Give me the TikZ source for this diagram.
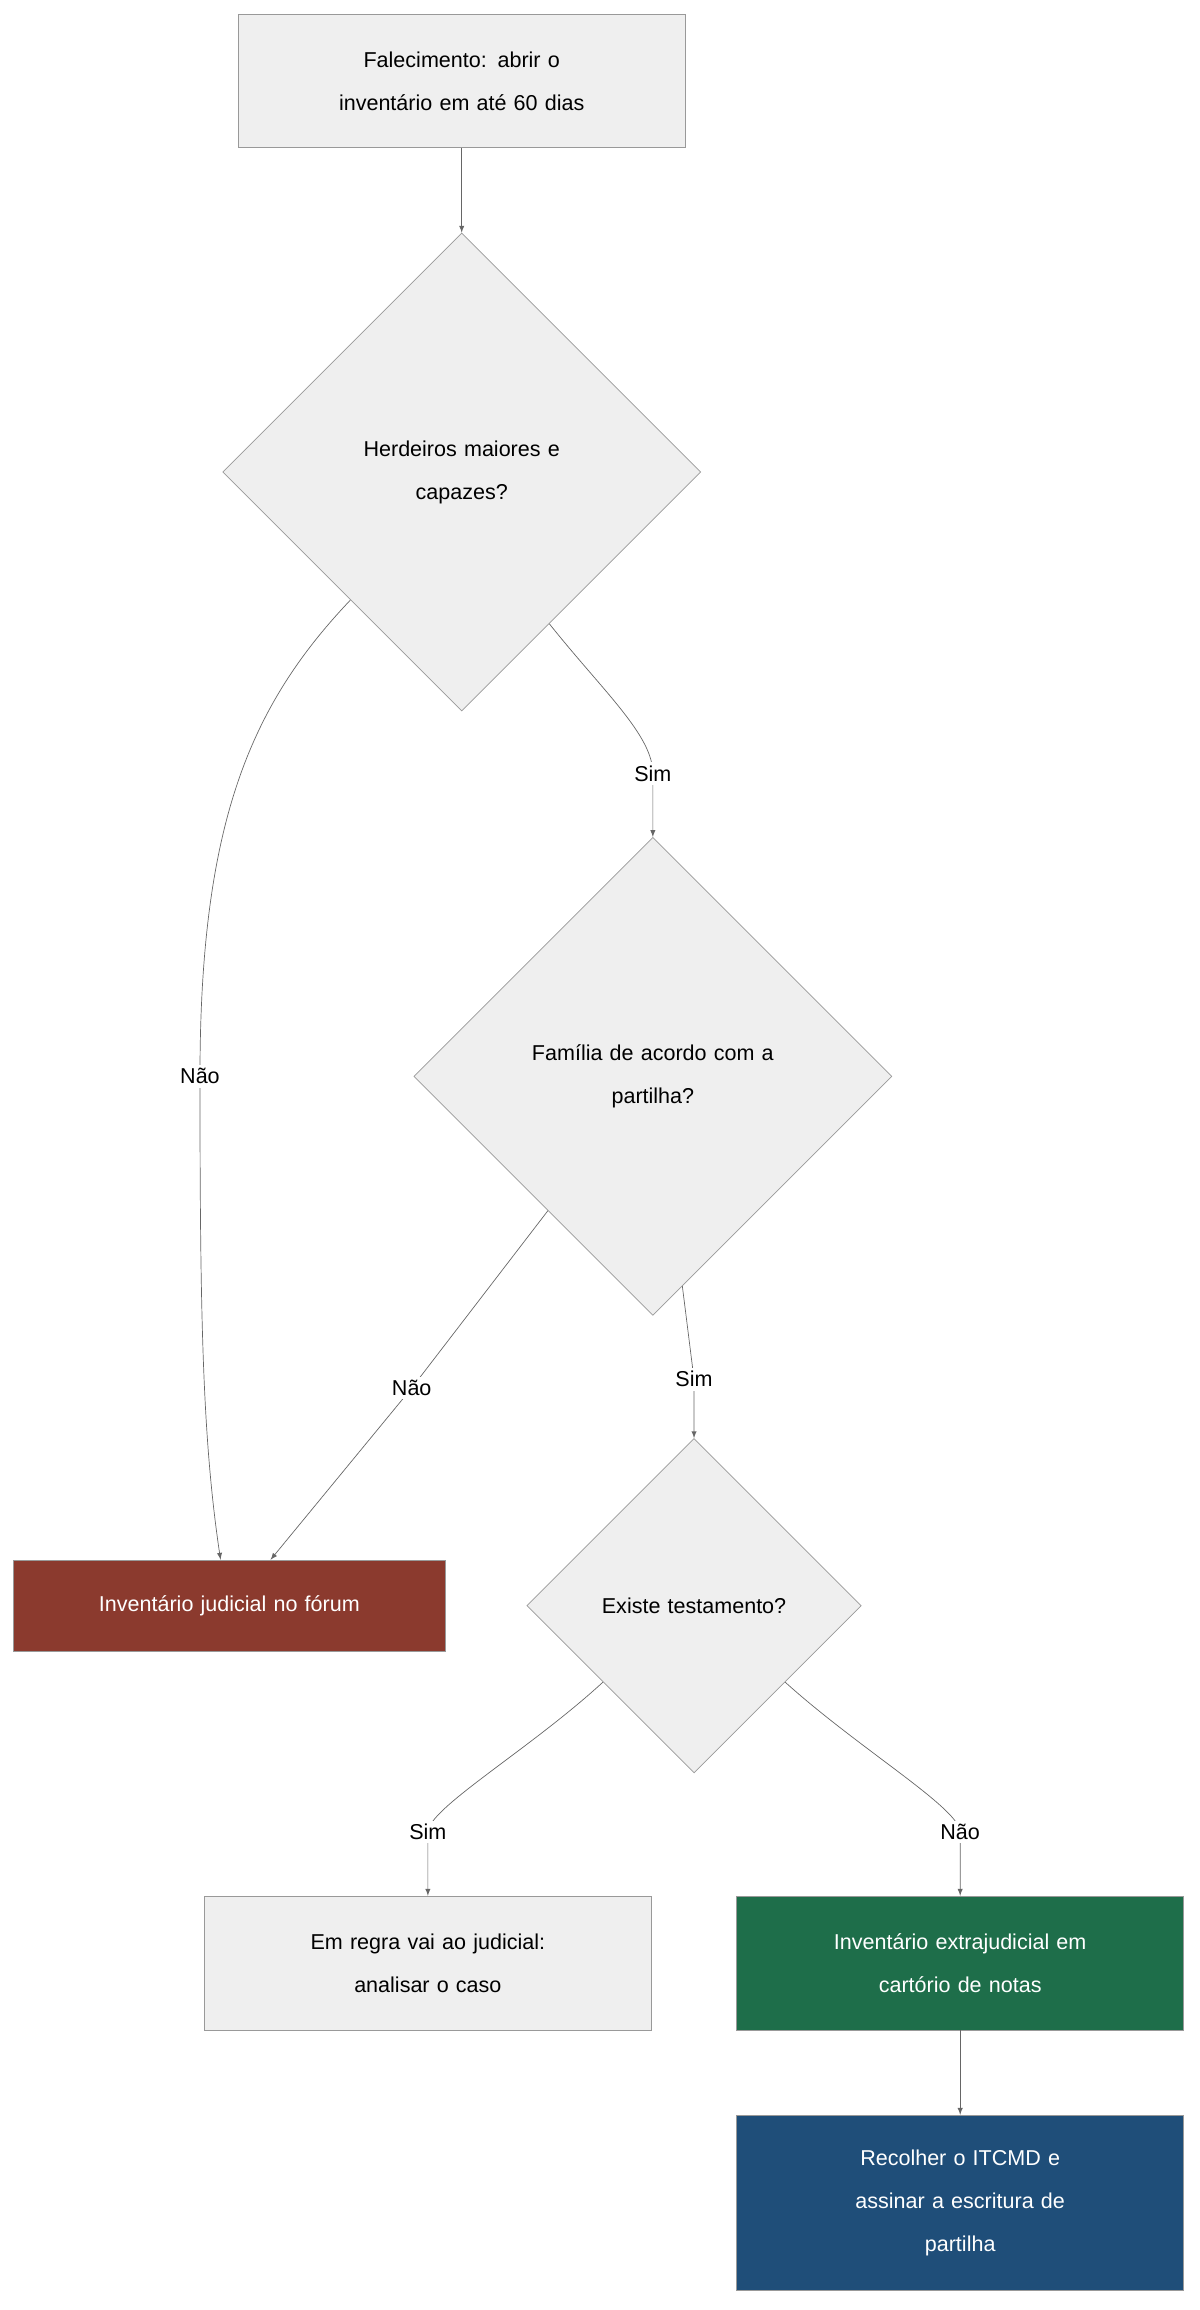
\documentclass[tikz,border=0pt]{standalone}
\usepackage{fontspec}
\setmainfont{Liberation Sans}
\usetikzlibrary{shapes.geometric}
\definecolor{boxgray}{HTML}{EFEFEF}
\definecolor{linegray}{HTML}{999999}
\definecolor{arrowgray}{HTML}{666666}
\definecolor{judred}{HTML}{8B3A2E}
\definecolor{extgreen}{HTML}{1E6E4A}
\definecolor{taxblue}{HTML}{1F4E79}
\tikzset{
  stage/.style={draw=linegray, fill=boxgray, minimum width=9.12cm, minimum height=2.73cm,
    text width=8.5cm, align=center, font=\fontsize{12.5}{25}\selectfont},
  question/.style={diamond, draw=linegray, fill=boxgray, aspect=1, inner sep=0pt,
    text width=6.5cm, align=center, font=\fontsize{12.5}{25}\selectfont},
  edge/.style={draw=arrowgray, -latex},
  lbl/.style={fill=white, inner sep=2pt, font=\fontsize{12.5}{15}\selectfont},
}
\begin{document}
\begin{tikzpicture}[x=0.03cm, y=-0.03cm]
    \useasboundingbox (0,0) rectangle (816,1571);

    % Boxes
    \node[stage] (start) at (314,55) {Falecimento: abrir o\\inventário em até 60 dias};
    \node[question, minimum size=9.75cm] (heirs) at (314,321) {Herdeiros maiores e\\capazes?};
    \node[question, minimum size=9.75cm] (agree) at (444,732) {Família de acordo com a\\partilha?};
    \node[question, minimum size=6.66cm] (will) at (472,1092) {Existe testamento?};
    \node[stage, fill=judred, draw=linegray, text=white, minimum width=8.82cm, minimum height=1.86cm] (court) at (156,1092) {Inventário judicial no fórum};
    \node[stage] (review) at (291,1335) {Em regra vai ao judicial:\\analisar o caso};
    \node[stage, fill=extgreen, text=white] (notary) at (653,1335) {Inventário extrajudicial em\\cartório de notas};
    \node[stage, fill=taxblue, text=white, minimum height=3.57cm] (tax) at (653,1498) {Recolher o ITCMD e\\assinar a escritura de\\partilha};

    % Connectors
    \draw[edge] (start) -- (heirs.north);
    %Não
    \draw[edge] (heirs.-131) .. controls (170,480) and (136,560) .. (136,732) node[lbl] {Não}
        .. controls (136,900) and (138,980) .. ([xshift=-0.18cm]court.north);
    %Sim
    \draw[edge] (heirs.-60) .. controls (410,470) and (444,500) .. (444,526) node[lbl] {Sim}
        .. controls (444,545) .. (agree.north);
    \draw[edge] (agree.-128) -- (280,944) node[lbl] {Não} -- ([xshift=0.84cm]court.north);
    \draw[edge] (agree.-82) -- (472,938) node[lbl] {Sim} -- (will.north);
    \draw[edge] (will.-140) .. controls (360,1190) and (291,1230) .. (291,1246) node[lbl] {Sim}
        .. controls (291,1265) .. (review.north);
    \draw[edge] (will.-40) .. controls (585,1190) and (653,1230) .. (653,1246) node[lbl] {Não}
        .. controls (653,1265) .. (notary.north);
    \draw[edge] (notary) -- (tax);
\end{tikzpicture}
\end{document}
